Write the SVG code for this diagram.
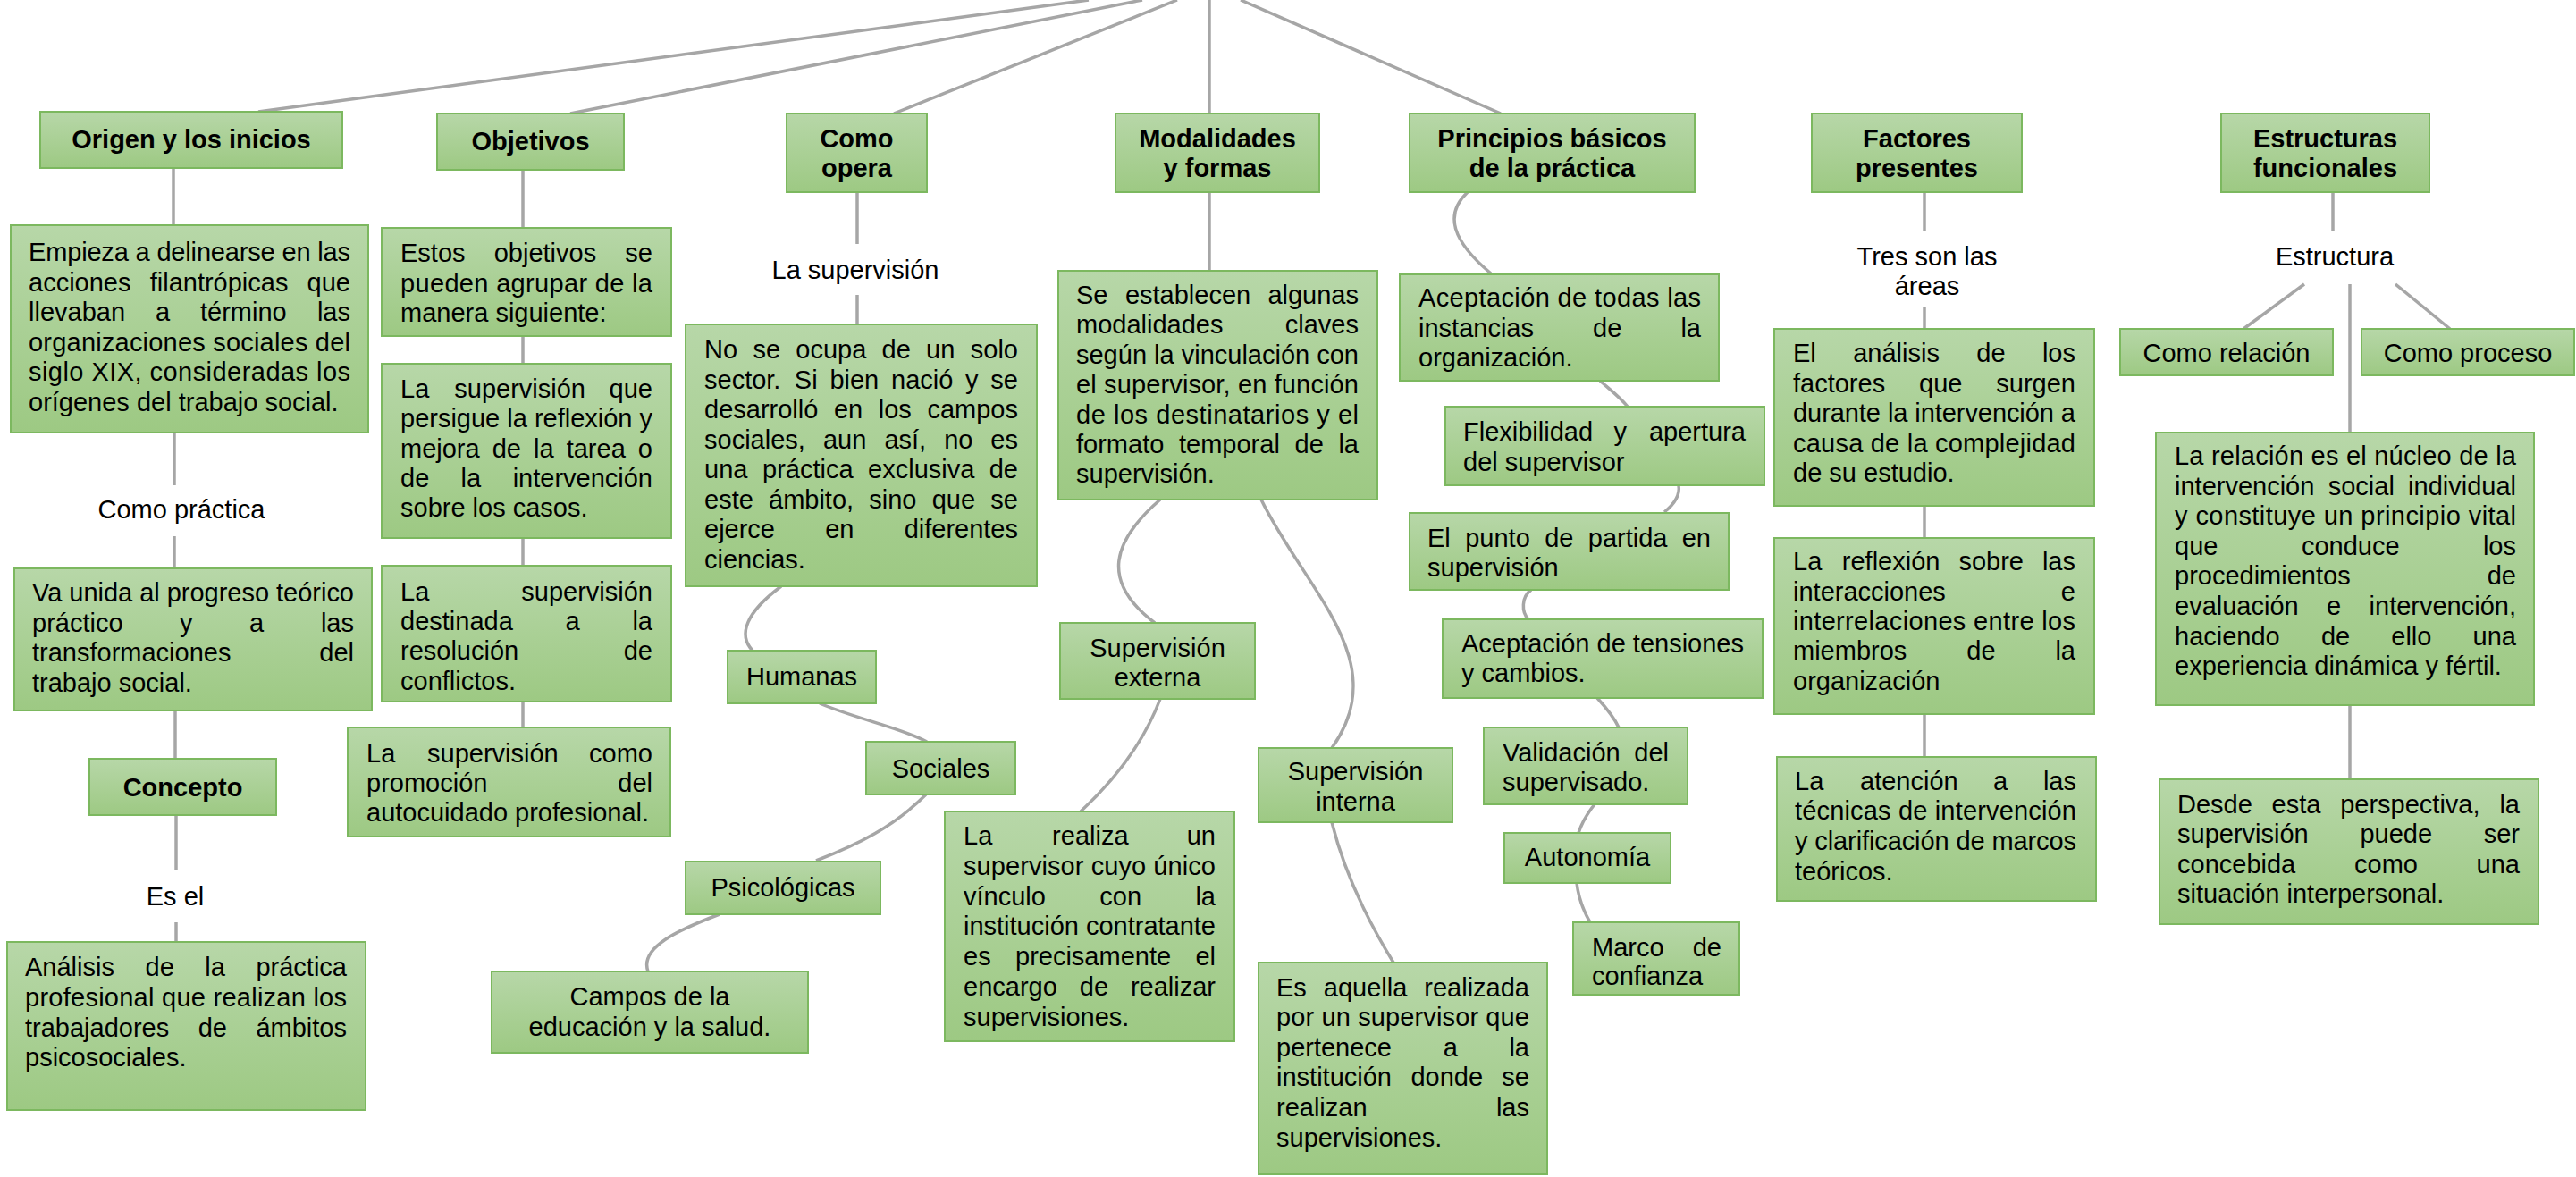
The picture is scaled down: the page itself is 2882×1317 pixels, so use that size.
<svg xmlns="http://www.w3.org/2000/svg" width="2882" height="1317" viewBox="0 0 2882 1317">
<defs>
<linearGradient id="gf" x1="0" y1="0" x2="0" y2="1">
<stop offset="0" stop-color="#b7d7a8"/>
<stop offset="1" stop-color="#9dc983"/>
</linearGradient>
</defs>
<style>
.bx{fill:url(#gf);stroke:#7cb85f;stroke-width:2}
text{font-family:"Liberation Sans",Arial,sans-serif;font-size:29px;fill:#000}
.b{font-weight:bold}
.c{text-anchor:middle}
.e{text-anchor:end}
.cn path{fill:none;stroke:#a6a6a6;stroke-width:3.5}
</style>
<rect width="2882" height="1317" fill="#fff"/>
<g class="cn" id="connectors">
<path d="M289,125 L1218,0"/>
<path d="M638,127 L1278,0"/>
<path d="M1000,127 L1317,0"/>
<path d="M1353,127 V0"/>
<path d="M1679,127 L1388,0"/>
<path d="M194,188 V252"/>
<path d="M195,484 V543"/>
<path d="M195,600 V636"/>
<path d="M196,795 V849"/>
<path d="M197,912 V974"/>
<path d="M197,1032 V1054"/>
<path d="M585,190 V255"/>
<path d="M585,376 V407"/>
<path d="M585,602 V633"/>
<path d="M585,785 V814"/>
<path d="M959,215 V273"/>
<path d="M959,330 V363"/>
<path d="M1353,215 V303"/>
<path d="M2153,215 V258"/>
<path d="M2153,343 V368"/>
<path d="M2153,566 V602"/>
<path d="M2153,799 V847"/>
<path d="M2610,215 V258"/>
<path d="M2578,318 L2510,368"/>
<path d="M2680,318 L2741,368"/>
<path d="M2629,318 V484"/>
<path d="M2629,789 V872"/>
<path d="M874,656 C835,685 825,710 842,728"/>
<path d="M917,787 C960,805 1010,815 1037,830"/>
<path d="M1036,889 C1000,925 960,945 913,963"/>
<path d="M805,1023 C760,1040 715,1060 725,1087"/>
<path d="M1298,559 C1245,605 1230,650 1292,697"/>
<path d="M1411,559 C1460,660 1560,740 1490,837"/>
<path d="M1298,782 C1280,830 1250,870 1209,908"/>
<path d="M1490,920 C1505,980 1530,1030 1559,1077"/>
<path d="M1642,215 C1615,240 1625,270 1668,306"/>
<path d="M1790,426 C1800,435 1812,444 1821,455"/>
<path d="M1878,543 C1880,555 1872,565 1862,573"/>
<path d="M1713,660 C1702,668 1702,685 1710,693"/>
<path d="M1787,781 C1797,792 1806,803 1811,814"/>
<path d="M1784,900 C1776,910 1770,920 1766,932"/>
<path d="M1764,988 C1766,1005 1772,1020 1779,1032"/>
</g>

<g id="n-origen"><rect class="bx" x="45" y="125" width="338" height="63"/><text class="b c" x="214" y="166">Origen y los inicios</text></g>
<g id="n-objetivos"><rect class="bx" x="489" y="127" width="209" height="63"/><text class="b c" x="593.5" y="168">Objetivos</text></g>
<g id="n-como-opera"><rect class="bx" x="880" y="127" width="157" height="88"/><text class="b c" x="958.5" y="165">Como</text><text class="b c" x="958.5" y="198">opera</text></g>
<g id="n-modalidades"><rect class="bx" x="1248" y="127" width="228" height="88"/><text class="b c" x="1362" y="165">Modalidades</text><text class="b c" x="1362" y="198">y formas</text></g>
<g id="n-principios"><rect class="bx" x="1577" y="127" width="319" height="88"/><text class="b c" x="1736.5" y="165">Principios básicos</text><text class="b c" x="1736.5" y="198">de la práctica</text></g>
<g id="n-factores"><rect class="bx" x="2027" y="127" width="235" height="88"/><text class="b c" x="2144.5" y="165">Factores</text><text class="b c" x="2144.5" y="198">presentes</text></g>
<g id="n-estructuras"><rect class="bx" x="2485" y="127" width="233" height="88"/><text class="b c" x="2601.5" y="165">Estructuras</text><text class="b c" x="2601.5" y="198">funcionales</text></g>

<g id="n-empieza"><rect class="bx" x="12" y="252" width="400" height="232"/>
<text x="32" y="292" textLength="360" lengthAdjust="spacing">Empieza a delinearse en las</text>
<text y="325.5"><tspan x="32">acciones</tspan><tspan x="167.7">filantrópicas</tspan><tspan x="392" class="e">que</tspan></text>
<text y="359"><tspan x="32">llevaban</tspan><tspan x="174">a</tspan><tspan x="224">término</tspan><tspan x="392" class="e">las</tspan></text>
<text x="32" y="392.5" textLength="360" lengthAdjust="spacing">organizaciones sociales del</text>
<text x="32" y="426" textLength="360" lengthAdjust="spacing">siglo XIX, consideradas los</text>
<text x="32" y="459.5">orígenes del trabajo social.</text>
</g>
<g id="n-como-practica"><text class="c" x="203" y="580">Como práctica</text></g>
<g id="n-va-unida"><rect class="bx" x="16" y="636" width="400" height="159"/>
<text x="36" y="673" textLength="360" lengthAdjust="spacing">Va unida al progreso teórico</text>
<text y="707"><tspan x="36">práctico</tspan><tspan x="201">y</tspan><tspan x="279">a</tspan><tspan x="396" class="e">las</tspan></text>
<text y="740"><tspan x="36">transformaciones</tspan><tspan x="396" class="e">del</tspan></text>
<text x="36" y="774">trabajo social.</text>
</g>
<g id="n-concepto"><rect class="bx" x="100" y="849" width="209" height="63"/><text class="b c" x="204.5" y="891">Concepto</text></g>
<g id="n-es-el"><text class="c" x="196" y="1013">Es el</text></g>
<g id="n-analisis"><rect class="bx" x="8" y="1054" width="401" height="188"/>
<text y="1092"><tspan x="28">Análisis</tspan><tspan x="162.5">de</tspan><tspan x="229.3">la</tspan><tspan x="388" class="e">práctica</tspan></text>
<text x="28" y="1126" textLength="360" lengthAdjust="spacing">profesional que realizan los</text>
<text y="1160"><tspan x="28">trabajadores</tspan><tspan x="221.7">de</tspan><tspan x="388" class="e">ámbitos</tspan></text>
<text x="28" y="1193">psicosociales.</text>
</g>

<g id="n-estos"><rect class="bx" x="427" y="255" width="324" height="121"/>
<text y="293"><tspan x="448">Estos</tspan><tspan x="552.7">objetivos</tspan><tspan x="730" class="e">se</tspan></text>
<text x="448" y="327" textLength="282" lengthAdjust="spacing">pueden agrupar de la</text>
<text x="448" y="360">manera siguiente:</text>
</g>
<g id="n-persigue"><rect class="bx" x="427" y="407" width="324" height="195"/>
<text y="445"><tspan x="448">La</tspan><tspan x="508.3">supervisión</tspan><tspan x="730" class="e">que</tspan></text>
<text x="448" y="478" textLength="282" lengthAdjust="spacing">persigue la reflexión y</text>
<text y="512"><tspan x="448">mejora</tspan><tspan x="550.7">de</tspan><tspan x="597">la</tspan><tspan x="633.7">tarea</tspan><tspan x="730" class="e">o</tspan></text>
<text y="545"><tspan x="448">de</tspan><tspan x="515.6">la</tspan><tspan x="730" class="e">intervención</tspan></text>
<text x="448" y="578">sobre los casos.</text>
</g>
<g id="n-conflictos"><rect class="bx" x="427" y="633" width="324" height="152"/>
<text y="672"><tspan x="448">La</tspan><tspan x="730" class="e">supervisión</tspan></text>
<text y="705"><tspan x="448">destinada</tspan><tspan x="632.5">a</tspan><tspan x="730" class="e">la</tspan></text>
<text y="738"><tspan x="448">resolución</tspan><tspan x="730" class="e">de</tspan></text>
<text x="448" y="772">conflictos.</text>
</g>
<g id="n-autocuidado"><rect class="bx" x="389" y="814" width="361" height="122"/>
<text y="853"><tspan x="410">La</tspan><tspan x="478">supervisión</tspan><tspan x="730" class="e">como</tspan></text>
<text y="886"><tspan x="410">promoción</tspan><tspan x="730" class="e">del</tspan></text>
<text x="410" y="919">autocuidado profesional.</text>
</g>

<g id="n-la-supervision"><text class="c" x="957" y="312">La supervisión</text></g>
<g id="n-no-se-ocupa"><rect class="bx" x="767" y="363" width="393" height="293"/>
<text y="401"><tspan x="788">No</tspan><tspan x="842.4">se</tspan><tspan x="890.3">ocupa</tspan><tspan x="986.6">de</tspan><tspan x="1036.1">un</tspan><tspan x="1139" class="e">solo</tspan></text>
<text y="434.5"><tspan x="788">sector.</tspan><tspan x="888.8">Si</tspan><tspan x="928.4">bien</tspan><tspan x="997">nació</tspan><tspan x="1080.1">y</tspan><tspan x="1139" class="e">se</tspan></text>
<text y="468"><tspan x="788">desarrolló</tspan><tspan x="932.9">en</tspan><tspan x="982.7">los</tspan><tspan x="1139" class="e">campos</tspan></text>
<text y="501.5"><tspan x="788">sociales,</tspan><tspan x="920.9">aun</tspan><tspan x="989.4">así,</tspan><tspan x="1056.2">no</tspan><tspan x="1139" class="e">es</tspan></text>
<text y="535"><tspan x="788">una</tspan><tspan x="853">práctica</tspan><tspan x="971.1">exclusiva</tspan><tspan x="1139" class="e">de</tspan></text>
<text y="568.5"><tspan x="788">este</tspan><tspan x="860">ámbito,</tspan><tspan x="972.3">sino</tspan><tspan x="1042.7">que</tspan><tspan x="1139" class="e">se</tspan></text>
<text y="602"><tspan x="788">ejerce</tspan><tspan x="923.2">en</tspan><tspan x="1139" class="e">diferentes</tspan></text>
<text x="788" y="635.5">ciencias.</text>
</g>
<g id="n-humanas"><rect class="bx" x="814" y="728" width="166" height="59"/><text class="c" x="897" y="767">Humanas</text></g>
<g id="n-sociales"><rect class="bx" x="969" y="830" width="167" height="59"/><text class="c" x="1052.5" y="870">Sociales</text></g>
<g id="n-psicologicas"><rect class="bx" x="767" y="964" width="218" height="59"/><text class="c" x="876" y="1003">Psicológicas</text></g>
<g id="n-campos"><rect class="bx" x="550" y="1087" width="354" height="91"/><text class="c" x="727" y="1125">Campos de la</text><text class="c" x="727" y="1159">educación y la salud.</text></g>

<g id="n-se-establecen"><rect class="bx" x="1184" y="303" width="357" height="256"/>
<text y="340"><tspan x="1204">Se</tspan><tspan x="1258.9">establecen</tspan><tspan x="1520" class="e">algunas</tspan></text>
<text y="373.4"><tspan x="1204">modalidades</tspan><tspan x="1520" class="e">claves</tspan></text>
<text x="1204" y="406.8" textLength="316" lengthAdjust="spacing">según la vinculación con</text>
<text x="1204" y="440.2" textLength="316" lengthAdjust="spacing">el supervisor, en función</text>
<text x="1204" y="473.6" textLength="316" lengthAdjust="spacing">de los destinatarios y el</text>
<text y="507"><tspan x="1204">formato</tspan><tspan x="1319">temporal</tspan><tspan x="1448.5">de</tspan><tspan x="1520" class="e">la</tspan></text>
<text x="1204" y="540.4">supervisión.</text>
</g>
<g id="n-externa"><rect class="bx" x="1186" y="697" width="218" height="85"/><text class="c" x="1295" y="735">Supervisión</text><text class="c" x="1295" y="768">externa</text></g>
<g id="n-realiza"><rect class="bx" x="1057" y="908" width="324" height="257"/>
<text y="945"><tspan x="1078">La</tspan><tspan x="1177.1">realiza</tspan><tspan x="1360" class="e">un</tspan></text>
<text x="1078" y="979" textLength="282" lengthAdjust="spacing">supervisor cuyo único</text>
<text y="1013"><tspan x="1078">vínculo</tspan><tspan x="1230.3">con</tspan><tspan x="1360" class="e">la</tspan></text>
<text x="1078" y="1046" textLength="282" lengthAdjust="spacing">institución contratante</text>
<text y="1080"><tspan x="1078">es</tspan><tspan x="1136">precisamente</tspan><tspan x="1360" class="e">el</tspan></text>
<text y="1114"><tspan x="1078">encargo</tspan><tspan x="1207.8">de</tspan><tspan x="1360" class="e">realizar</tspan></text>
<text x="1078" y="1148">supervisiones.</text>
</g>
<g id="n-interna"><rect class="bx" x="1408" y="837" width="217" height="83"/><text class="c" x="1516.5" y="873">Supervisión</text><text class="c" x="1516.5" y="907">interna</text></g>
<g id="n-es-aquella"><rect class="bx" x="1408" y="1077" width="323" height="237"/>
<text y="1115"><tspan x="1428">Es</tspan><tspan x="1480.8">aquella</tspan><tspan x="1711" class="e">realizada</tspan></text>
<text x="1428" y="1148" textLength="283" lengthAdjust="spacing">por un supervisor que</text>
<text y="1182"><tspan x="1428">pertenece</tspan><tspan x="1614.7">a</tspan><tspan x="1711" class="e">la</tspan></text>
<text y="1215"><tspan x="1428">institución</tspan><tspan x="1578.4">donde</tspan><tspan x="1711" class="e">se</tspan></text>
<text y="1249"><tspan x="1428">realizan</tspan><tspan x="1711" class="e">las</tspan></text>
<text x="1428" y="1283">supervisiones.</text>
</g>

<g id="n-aceptacion"><rect class="bx" x="1566" y="307" width="357" height="119"/>
<text x="1587" y="343" textLength="316" lengthAdjust="spacing">Aceptación de todas las</text>
<text y="377"><tspan x="1587">instancias</tspan><tspan x="1782">de</tspan><tspan x="1903" class="e">la</tspan></text>
<text x="1587" y="410">organización.</text>
</g>
<g id="n-flexibilidad"><rect class="bx" x="1617" y="455" width="357" height="88"/>
<text y="493"><tspan x="1637">Flexibilidad</tspan><tspan x="1805.4">y</tspan><tspan x="1953" class="e">apertura</tspan></text>
<text x="1637" y="527">del supervisor</text>
</g>
<g id="n-punto"><rect class="bx" x="1577" y="574" width="357" height="86"/>
<text y="612"><tspan x="1597">El</tspan><tspan x="1639.2">punto</tspan><tspan x="1728.2">de</tspan><tspan x="1776.8">partida</tspan><tspan x="1914" class="e">en</tspan></text>
<text x="1597" y="645">supervisión</text>
</g>
<g id="n-tensiones"><rect class="bx" x="1614" y="693" width="358" height="88"/>
<text x="1635" y="730" textLength="316" lengthAdjust="spacing">Aceptación de tensiones</text>
<text x="1635" y="763">y cambios.</text>
</g>
<g id="n-validacion"><rect class="bx" x="1660" y="814" width="228" height="86"/>
<text y="852"><tspan x="1681">Validación</tspan><tspan x="1867" class="e">del</tspan></text>
<text x="1681" y="885">supervisado.</text>
</g>
<g id="n-autonomia"><rect class="bx" x="1683" y="932" width="186" height="56"/><text class="c" x="1776" y="969">Autonomía</text></g>
<g id="n-marco"><rect class="bx" x="1760" y="1032" width="186" height="81"/>
<text y="1070"><tspan x="1781">Marco</tspan><tspan x="1926" class="e">de</tspan></text>
<text x="1781" y="1102">confianza</text>
</g>

<g id="n-tres-son"><text class="c" x="2156" y="297">Tres son las</text><text class="c" x="2156" y="330">áreas</text></g>
<g id="n-analisis-factores"><rect class="bx" x="1985" y="368" width="358" height="198"/>
<text y="405"><tspan x="2006">El</tspan><tspan x="2073.2">análisis</tspan><tspan x="2211.3">de</tspan><tspan x="2322" class="e">los</tspan></text>
<text y="438.5"><tspan x="2006">factores</tspan><tspan x="2147">que</tspan><tspan x="2322" class="e">surgen</tspan></text>
<text x="2006" y="472" textLength="316" lengthAdjust="spacing">durante la intervención a</text>
<text x="2006" y="505.5" textLength="316" lengthAdjust="spacing">causa de la complejidad</text>
<text x="2006" y="539">de su estudio.</text>
</g>
<g id="n-reflexion"><rect class="bx" x="1985" y="602" width="358" height="197"/>
<text y="638"><tspan x="2006">La</tspan><tspan x="2060.8">reflexión</tspan><tspan x="2191.4">sobre</tspan><tspan x="2322" class="e">las</tspan></text>
<text y="672"><tspan x="2006">interacciones</tspan><tspan x="2322" class="e">e</tspan></text>
<text x="2006" y="705" textLength="316" lengthAdjust="spacing">interrelaciones entre los</text>
<text y="738"><tspan x="2006">miembros</tspan><tspan x="2200.3">de</tspan><tspan x="2322" class="e">la</tspan></text>
<text x="2006" y="772">organización</text>
</g>
<g id="n-atencion"><rect class="bx" x="1988" y="847" width="357" height="161"/>
<text y="884"><tspan x="2008">La</tspan><tspan x="2081">atención</tspan><tspan x="2230">a</tspan><tspan x="2323" class="e">las</tspan></text>
<text x="2008" y="917" textLength="315" lengthAdjust="spacing">técnicas de intervención</text>
<text x="2008" y="951" textLength="315" lengthAdjust="spacing">y clarificación de marcos</text>
<text x="2008" y="985">teóricos.</text>
</g>

<g id="n-estructura"><text class="c" x="2612" y="297">Estructura</text></g>
<g id="n-como-relacion"><rect class="bx" x="2372" y="368" width="238" height="52"/><text class="c" x="2491" y="405">Como relación</text></g>
<g id="n-como-proceso"><rect class="bx" x="2642" y="368" width="238" height="52"/><text class="c" x="2761" y="405">Como proceso</text></g>
<g id="n-relacion"><rect class="bx" x="2412" y="484" width="423" height="305"/>
<text x="2433" y="520" textLength="382" lengthAdjust="spacing">La relación es el núcleo de la</text>
<text y="554"><tspan x="2433">intervención</tspan><tspan x="2604.7">social</tspan><tspan x="2815" class="e">individual</tspan></text>
<text x="2433" y="587" textLength="382" lengthAdjust="spacing">y constituye un principio vital</text>
<text y="621"><tspan x="2433">que</tspan><tspan x="2574.9">conduce</tspan><tspan x="2815" class="e">los</tspan></text>
<text y="654"><tspan x="2433">procedimientos</tspan><tspan x="2815" class="e">de</tspan></text>
<text y="688"><tspan x="2433">evaluación</tspan><tspan x="2603">e</tspan><tspan x="2815" class="e">intervención,</tspan></text>
<text y="722"><tspan x="2433">haciendo</tspan><tspan x="2596.9">de</tspan><tspan x="2675.3">ello</tspan><tspan x="2815" class="e">una</tspan></text>
<text x="2433" y="755">experiencia dinámica y fértil.</text>
</g>
<g id="n-desde"><rect class="bx" x="2416" y="872" width="424" height="162"/>
<text y="910"><tspan x="2436">Desde</tspan><tspan x="2541.6">esta</tspan><tspan x="2618.2">perspectiva,</tspan><tspan x="2819" class="e">la</tspan></text>
<text y="943"><tspan x="2436">supervisión</tspan><tspan x="2640.4">puede</tspan><tspan x="2819" class="e">ser</tspan></text>
<text y="977"><tspan x="2436">concebida</tspan><tspan x="2634">como</tspan><tspan x="2819" class="e">una</tspan></text>
<text x="2436" y="1010">situación interpersonal.</text>
</g>
</svg>
